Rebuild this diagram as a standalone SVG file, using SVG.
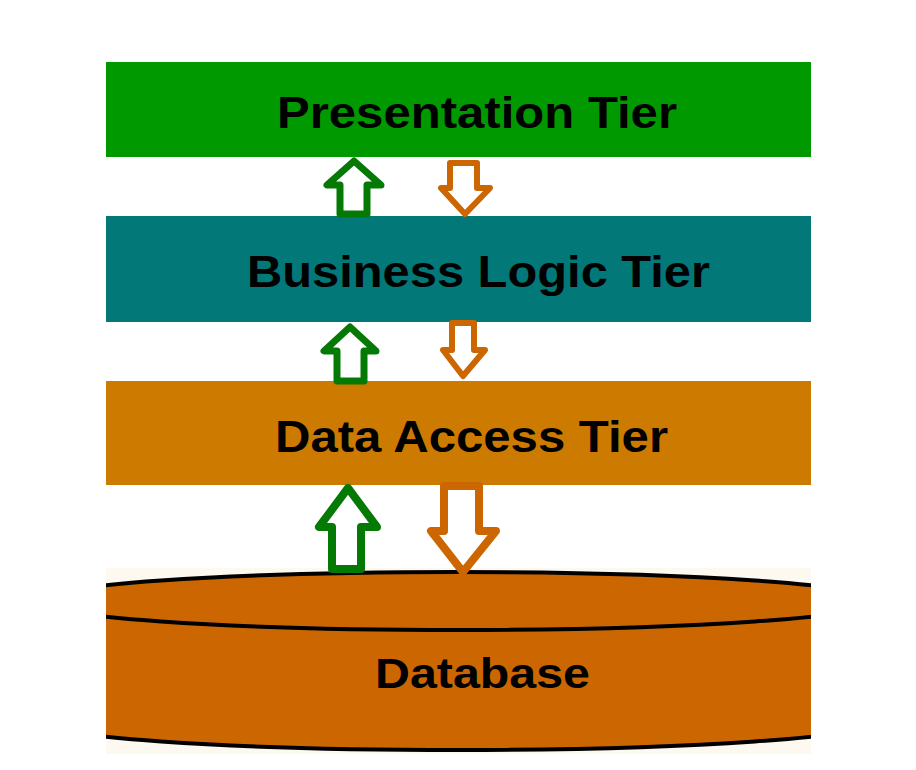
<svg xmlns="http://www.w3.org/2000/svg" width="916" height="770" viewBox="0 0 916 770">
  <defs>
    <clipPath id="dbclip"><rect x="106" y="0" width="705" height="770"/></clipPath>
    <style>
      .label { font-family: "Liberation Sans", Arial, sans-serif; font-weight: bold; fill: #000; }
      .up { fill: #ffffff; stroke: #047a04; stroke-linejoin: round; }
      .down { fill: #ffffff; stroke: #cc6600; stroke-linejoin: round; }
    </style>
  </defs>
  <rect x="0" y="0" width="916" height="770" fill="#ffffff"/>

  <g id="presentation-tier">
    <rect x="106" y="62" width="705" height="95" fill="#009900"/>
    <text class="label" x="277" y="128" font-size="44" textLength="400" lengthAdjust="spacingAndGlyphs">Presentation Tier</text>
  </g>

  <g id="business-logic-tier">
    <rect x="106" y="216" width="705" height="106" fill="#027878"/>
    <text class="label" x="247" y="287" font-size="45" textLength="463" lengthAdjust="spacingAndGlyphs">Business Logic Tier</text>
  </g>

  <g id="data-access-tier">
    <rect x="106" y="381" width="705" height="104" fill="#cc7a00"/>
    <text class="label" x="275" y="452" font-size="45" textLength="393" lengthAdjust="spacingAndGlyphs">Data Access Tier</text>
  </g>

  <g id="database">
    <rect x="106" y="568" width="705" height="186" fill="#fdf9f1"/>
    <g clip-path="url(#dbclip)">
      <path d="M38,601 L38,721 A420,29 0 0 0 878,721 L878,601 Z" fill="#cc6600" stroke="#000" stroke-width="4"/>
      <ellipse cx="458" cy="601" rx="420" ry="29" fill="#cc6600" stroke="#000" stroke-width="4"/>
    </g>
    <text class="label" x="375" y="688" font-size="43" textLength="215" lengthAdjust="spacingAndGlyphs">Database</text>
  </g>

  <g id="connectors">
    <path class="up" stroke-width="7" d="M354,161 L327,185 L340,185 L340,214 L367,214 L367,185 L381,185 Z"/>
    <path class="down" stroke-width="6" d="M450,163 L477,163 L477,188 L490,188 L465,214 L441,188 L450,188 Z"/>
    <path class="up" stroke-width="7" d="M350,327 L324,351 L337,351 L337,381 L364,381 L364,351 L376,351 Z"/>
    <path class="down" stroke-width="6" d="M452,323 L474,323 L474,350 L485,350 L463,376 L443,350 L452,350 Z"/>
    <path class="up" stroke-width="8" d="M348,488 L319,527 L332,527 L332,569 L361,569 L361,527 L377,527 Z"/>
    <path class="down" stroke-width="8" d="M444,486 L479,486 L479,531 L496,531 L463,572 L431,531 L444,531 Z"/>
  </g>
</svg>
